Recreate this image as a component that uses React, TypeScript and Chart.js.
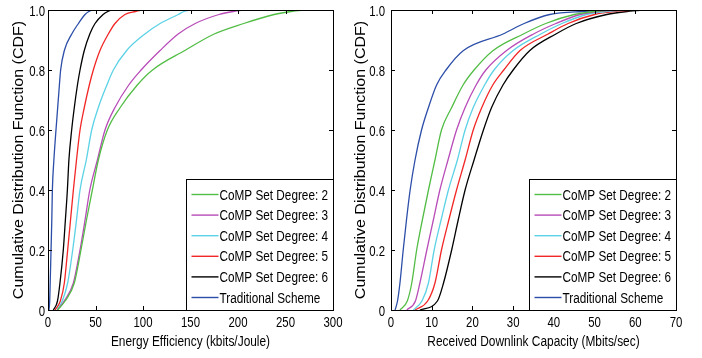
import React, { useEffect, useRef } from "react";
import { Chart, registerables } from "chart.js";

Chart.register(...registerables);

// CDF levels shared by every curve (y values)
const cdfLevels = [0, 0.03, 0.09, 0.2, 0.3, 0.4, 0.5, 0.6, 0.675, 0.75, 0.8, 0.865, 0.92, 0.955, 0.985, 0.995, 1];

const seriesNames = [
  "CoMP Set Degree: 2",
  "CoMP Set Degree: 3",
  "CoMP Set Degree: 4",
  "CoMP Set Degree: 5",
  "CoMP Set Degree: 6",
  "Traditional Scheme",
];
const seriesColors = ["#52bd45", "#b84cb8", "#5cd2e6", "#f22626", "#000000", "#2c4ea8"];

// Left chart: Energy Efficiency (kbits/Joule) at each CDF level
const eeDegree2 = [10, 18, 27.7, 34.7, 40.5, 46.7, 53, 62.5, 76, 94, 110, 144, 175, 206, 238, 256, 272];
const eeDegree3 = [10, 17, 26.7, 33.7, 39, 44, 52, 60, 70.5, 85, 98, 118, 137, 155, 180, 195, 208];
const eeDegree4 = [9.5, 15, 20.7, 26, 30, 33.7, 40.3, 46, 53, 62, 68.8, 82.8, 102, 118, 137, 143, 150];
const eeDegree5 = [7.4, 13, 17.2, 20.7, 23.7, 26.7, 30, 33.7, 38.2, 43.5, 47.7, 54.7, 63.5, 70.5, 81, 92, 100];
const eeDegree6 = [5.6, 10, 12.6, 16.1, 18.3, 20.4, 22, 24.9, 27.7, 31, 33.7, 38.2, 44, 49.5, 58, 63, 67];
const eeTraditional = [1, 1.8, 2.3, 3.2, 4, 4.6, 6.2, 8.4, 10.2, 12, 13.3, 17.2, 25, 32, 39, 43, 47];

// Right chart: Received Downlink Capacity (Mbits/sec) at each CDF level
const capDegree2 = [2.2, 4, 5.1, 6.3, 7.7, 9.2, 10.8, 12.4, 14.9, 17.7, 20.4, 25.1, 32.5, 38, 45, 50, 56];
const capDegree3 = [3.9, 6, 7.1, 8.8, 10.4, 12, 14, 16.1, 18.2, 20.9, 23.3, 28.4, 35, 40.5, 46.5, 51, 57];
const capDegree4 = [5.5, 7.6, 9.2, 10.6, 12.3, 14.1, 16.3, 18.2, 20.2, 23, 25.3, 30, 36.8, 42, 48, 53, 59];
const capDegree5 = [5.9, 9, 10.8, 12.4, 14.2, 16.1, 18.2, 20.2, 22.3, 25, 27.7, 31.7, 38.6, 43.5, 50, 55, 61];
const capDegree6 = [7.1, 11.4, 12.9, 14.9, 16.5, 18.2, 20.4, 22.7, 24.7, 27.5, 30, 34.1, 40.5, 45.5, 53, 58, 63];
const capTraditional = [1, 1.6, 2.2, 3.0, 3.8, 4.7, 5.9, 7.5, 9.2, 11.2, 13.5, 17.8, 27.5, 32.7, 39, 47, 62];

const eeAxis = { min: 0, max: 300, step: 50, title: "Energy Efficiency (kbits/Joule)" };
const capAxis = { min: 0, max: 70, step: 10, title: "Received Downlink Capacity (Mbits/sec)" };
const yTitle = "Cumulative Distribution Function (CDF)";

const FONT = "'Liberation Sans', Arial, sans-serif";

function drawText(
  ctx: CanvasRenderingContext2D,
  text: string,
  x: number,
  y: number,
  size: number,
  squeeze: number,
  align: CanvasTextAlign,
  rotated = false
) {
  ctx.save();
  ctx.translate(x, y);
  if (rotated) {
    ctx.rotate(-Math.PI / 2);
    ctx.scale(1, squeeze);
  } else {
    ctx.scale(squeeze, 1);
  }
  ctx.font = size + "px " + FONT;
  ctx.textAlign = align;
  ctx.textBaseline = "alphabetic";
  ctx.fillStyle = "#000";
  ctx.fillText(text, 0, 0);
  ctx.restore();
}

function makePlugin(cfg: { xTitle: string; yTitleX: number; labelGap: number }) {
  return {
    id: "matlabDecor",
    afterDraw(chart: any) {
      const { ctx, chartArea: a, scales } = chart;
      const xs = scales.x;
      const ys = scales.y;
      ctx.save();
      ctx.strokeStyle = "#000";
      ctx.lineWidth = 1;
      // inward tick marks on all four sides
      const tl = 4;
      ctx.beginPath();
      xs.ticks.forEach((t: any) => {
        const px = Math.round(xs.getPixelForValue(t.value)) + 0.5;
        ctx.moveTo(px, a.bottom);
        ctx.lineTo(px, a.bottom - tl);
        ctx.moveTo(px, a.top);
        ctx.lineTo(px, a.top + tl);
      });
      ys.ticks.forEach((t: any) => {
        const py = Math.round(ys.getPixelForValue(t.value)) + 0.5;
        ctx.moveTo(a.left, py);
        ctx.lineTo(a.left + tl, py);
        ctx.moveTo(a.right, py);
        ctx.lineTo(a.right - tl, py);
      });
      ctx.stroke();
      ctx.strokeRect(
        Math.round(a.left) + 0.5,
        Math.round(a.top) + 0.5,
        Math.round(a.right - a.left),
        Math.round(a.bottom - a.top)
      );

      // tick labels
      xs.ticks.forEach((t: any) => {
        const px = xs.getPixelForValue(t.value);
        drawText(ctx, String(t.label), px, a.bottom + 17, 15, 0.76, "center");
      });
      ys.ticks.forEach((t: any) => {
        const py = ys.getPixelForValue(t.value);
        drawText(ctx, String(t.label), a.left - cfg.labelGap, py + 5.5, 15, 0.76, "right");
      });
      // axis titles
      drawText(ctx, cfg.xTitle, (a.left + a.right) / 2, 346, 14, 0.85, "center");
      drawText(ctx, yTitle, cfg.yTitleX, (a.top + a.bottom) / 2, 16, 0.87, "center", true);

      // legend box in the lower-right corner
      const lw = 147;
      const lh = 131;
      const lx = Math.round(a.right) - lw + 0.5;
      const ly = Math.round(a.bottom) - lh + 0.5;
      ctx.fillStyle = "#fff";
      ctx.fillRect(lx, ly, lw, lh);
      ctx.strokeStyle = "#000";
      ctx.lineWidth = 1;
      ctx.strokeRect(lx, ly, lw, lh);
      chart.data.datasets.forEach((ds: any, i: number) => {
        const cy = ly + 15 + i * 20.6;
        ctx.strokeStyle = ds.borderColor;
        ctx.lineWidth = 1.4;
        ctx.beginPath();
        ctx.moveTo(lx + 5, cy);
        ctx.lineTo(lx + 32, cy);
        ctx.stroke();
        drawText(ctx, ds.label, lx + 33, cy + 5, 14, 0.84, "left");
      });
      ctx.restore();
    },
  };
}

type PanelProps = {
  left: number;
  series: number[][];
  axis: { min: number; max: number; step: number; title: string };
  yWidth: number;
  yTitleX: number;
  labelGap: number;
  padRight: number;
};

function Panel({ left, series, axis, yWidth, yTitleX, labelGap, padRight }: PanelProps) {
  const ref = useRef<HTMLCanvasElement | null>(null);
  useEffect(() => {
    if (!ref.current) return;
    const datasets = series.map((xsArr, i) => ({
      label: seriesNames[i],
      data: xsArr.map((x, j) => ({ x, y: cdfLevels[j] })),
      borderColor: seriesColors[i],
      backgroundColor: seriesColors[i],
      borderWidth: 1.3,
      pointRadius: 0,
      showLine: true,
      fill: false,
      cubicInterpolationMode: "monotone",
    }));
    const chart = new Chart(ref.current, {
      type: "scatter",
      data: { datasets },
      plugins: [makePlugin({ xTitle: axis.title, yTitleX, labelGap })],
      options: {
        responsive: false,
        animation: false,
        devicePixelRatio: 1,
        layout: { padding: { left: 0, top: 10, right: padRight, bottom: 0 } },
        plugins: { legend: { display: false }, tooltip: { enabled: false } },
        scales: {
          x: {
            type: "linear",
            min: axis.min,
            max: axis.max,
            afterFit: (s: any) => {
              s.height = 48;
            },
            ticks: { stepSize: axis.step, display: false },
            grid: { display: false, drawTicks: false },
            border: { display: false },
          },
          y: {
            type: "linear",
            min: 0,
            max: 1,
            afterFit: (s: any) => {
              s.width = yWidth;
            },
            ticks: { stepSize: 0.2, display: false },
            grid: { display: false, drawTicks: false },
            border: { display: false },
          },
        },
      } as any,
    });
    return () => chart.destroy();
  }, []);
  return (
    <canvas
      ref={ref}
      width={351}
      height={358}
      style={{ position: "absolute", left, top: 0, width: 351, height: 358 }}
    />
  );
}

export default function App() {
  return (
    <div style={{ position: "absolute", left: 0, top: 0, width: 702, height: 358, background: "#fff" }}>
      <Panel
        left={0}
        series={[eeDegree2, eeDegree3, eeDegree4, eeDegree5, eeDegree6, eeTraditional]}
        axis={eeAxis}
        yWidth={48}
        yTitleX={23}
        labelGap={3}
        padRight={18}
      />
      <Panel
        left={351}
        series={[capDegree2, capDegree3, capDegree4, capDegree5, capDegree6, capTraditional]}
        axis={capAxis}
        yWidth={40}
        yTitleX={14}
        labelGap={6}
        padRight={26}
      />
    </div>
  );
}
